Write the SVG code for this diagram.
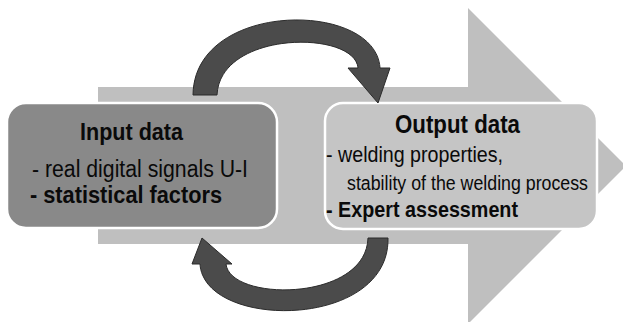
<svg xmlns="http://www.w3.org/2000/svg" width="623" height="322" viewBox="0 0 623 322">
<style>
.bg{fill:#bfbfbf}
.box{stroke:#ffffff;stroke-width:2.5}
.in{fill:#898989}
.out{fill:#c5c5c5}
.conn{fill:#4b4b4b;stroke:#2b2b2b;stroke-width:1;stroke-linejoin:miter}
text{font-family:"Liberation Sans",Arial,sans-serif;fill:#0a0a0a}
.h{font-weight:bold}
.b{font-weight:bold}
</style>
<rect width="623" height="322" fill="#ffffff"/>
<g id="flow-arrow">
<polygon class="bg" points="98,87 468,87 468,8 626,166 468,324 468,244 98,244"/>
</g>
<g id="input">
<rect class="box in" x="7" y="103" width="270" height="125" rx="19"/>
<text class="h" x="80" y="140" font-size="24.5" textLength="103" lengthAdjust="spacingAndGlyphs">Input data</text>
<text x="32" y="177" font-size="23" textLength="216" lengthAdjust="spacingAndGlyphs">- real digital signals U-I</text>
<text class="b" x="30" y="203" font-size="23.5" textLength="192" lengthAdjust="spacingAndGlyphs">- statistical factors</text>
</g>
<g id="output">
<rect class="box out" x="325" y="103" width="272" height="126" rx="18"/>
<text class="h" x="395" y="133" font-size="26" textLength="125" lengthAdjust="spacingAndGlyphs">Output data</text>
<text x="326" y="162" font-size="22" textLength="177" lengthAdjust="spacingAndGlyphs">- welding properties,</text>
<text x="347" y="190" font-size="19.5" textLength="241" lengthAdjust="spacingAndGlyphs">stability of the welding process</text>
<text class="b" x="326" y="217" font-size="22" textLength="192" lengthAdjust="spacingAndGlyphs">- Expert assessment</text>
</g>
<g id="connectors">
<path id="loop-top" class="conn" d="M193 95 C194 0 376 0 380 68 L390 68 L378 103 L348 68 L358 68 C355 30 220 30 217 95 Z"/>
<path id="loop-bottom" class="conn" d="M388 238 C390 330 204 330 200 264 L192 264 L202 238 L232 264 L226 264 C230 302 366 302 368 238 Z"/>
</g>
</svg>
